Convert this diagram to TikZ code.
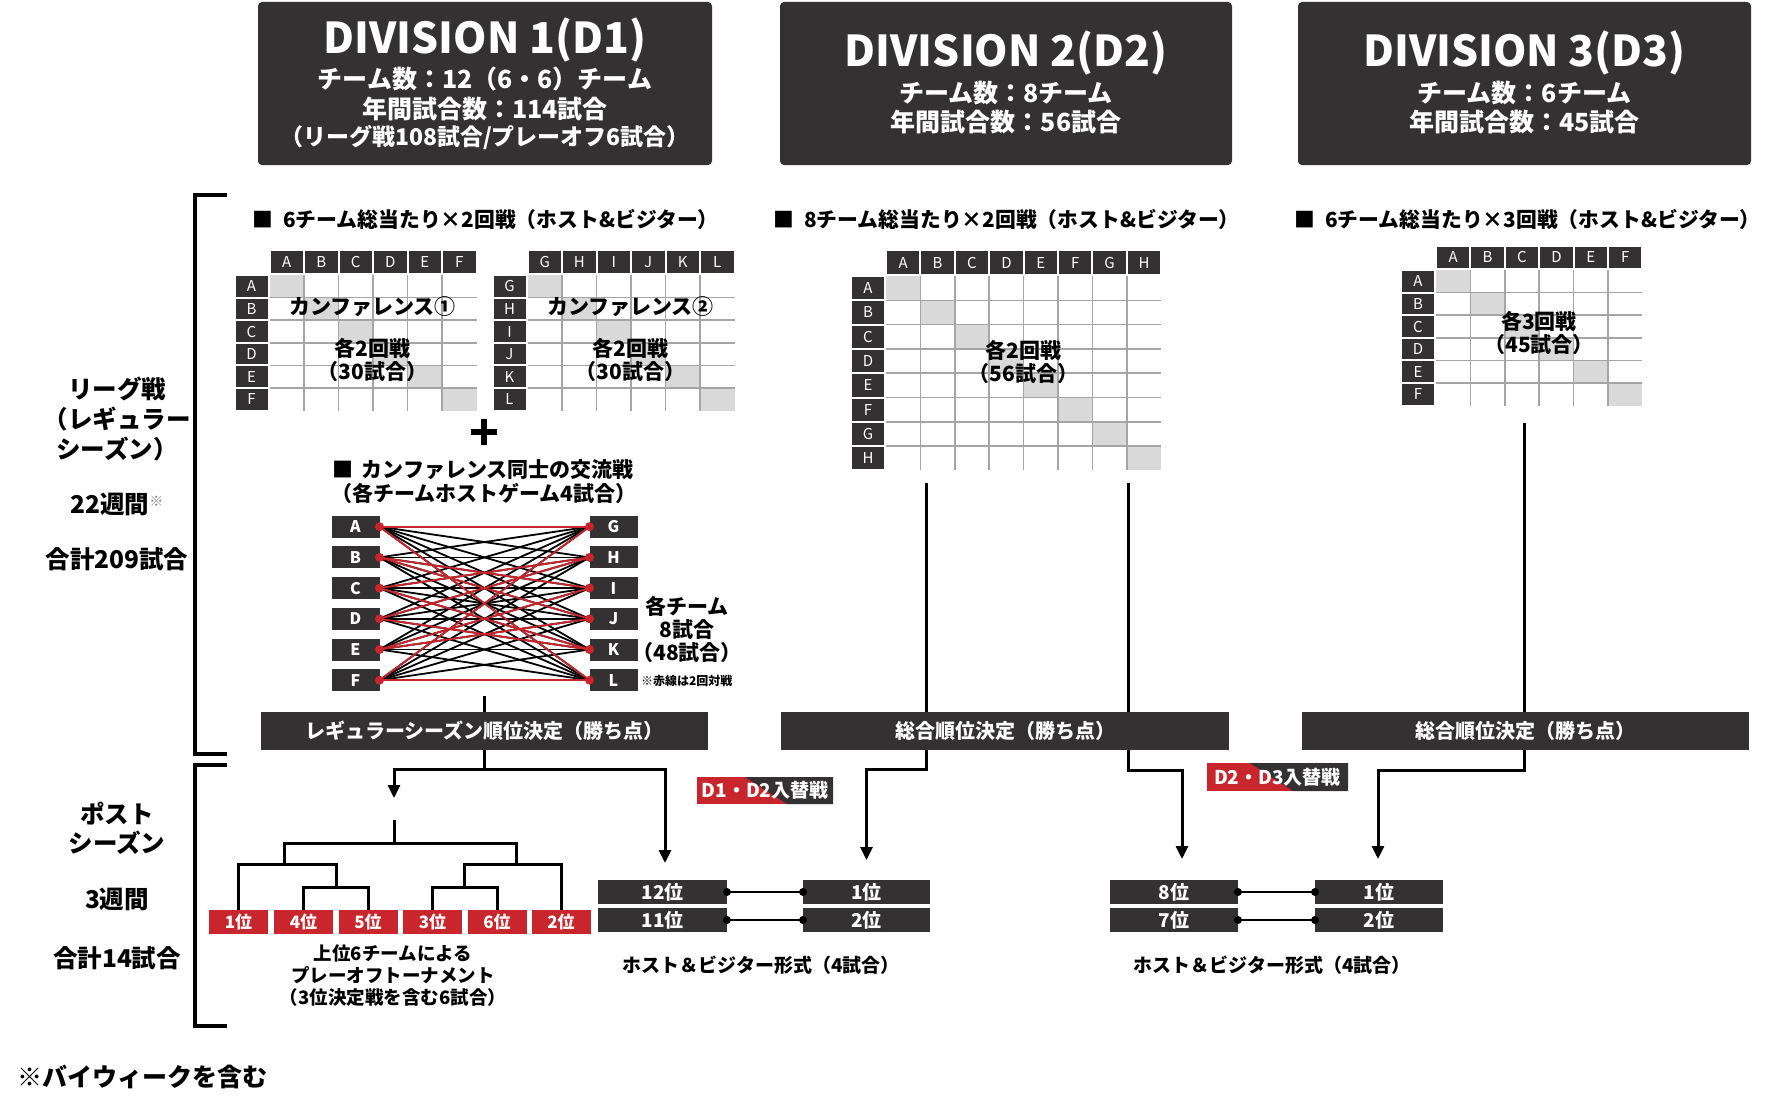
\documentclass[tikz,border=0pt]{standalone}
\usepackage{fontspec}
\setmainfont{Noto Sans CJK JP}
\usetikzlibrary{arrows.meta}
\definecolor{dk}{RGB}{51,49,50}
\definecolor{rd}{RGB}{200,38,44}
\definecolor{lg}{RGB}{217,217,217}
\definecolor{gl}{RGB}{165,165,165}
\newcommand{\fsz}[1]{\fontsize{#1}{#1}\selectfont}
\tikzset{
  base/.style={inner sep=0pt, outer sep=0pt},
  lab/.style={base, font={\bfseries\fsz{20}}},
  wlab/.style={lab, text=white},
  hdrbox/.style={base, fill=dk, rounded corners=4pt},
  barbox/.style={base, fill=dk, minimum width=447, minimum height=38, text=white, font={\bfseries\fsz{20}}},
  rkbox/.style={base, fill=dk, minimum width=129, minimum height=24, text=white, font={\bfseries\fsz{19}}},
  redbox/.style={base, fill=rd, minimum width=59, minimum height=24, text=white, font={\bfseries\fsz{17}}},
  xbox/.style={base, fill=dk, minimum width=48, minimum height=22, text=white, font={\bfseries\fsz{16}}},
  tcell/.style={base, fill=dk, text=white, font={\fsz{15}}},
  gridl/.style={draw=gl, line width=1.5pt},
  conn/.style={draw=black, line width=3pt},
  arr/.style={conn, -{Triangle[length=13pt,width=12pt]}},
  xline/.style={draw=black, line width=1.8pt},
  xred/.style={draw=rd, line width=1.8pt},
  hv/.style={draw=black, line width=2pt},
  sidelab/.style={base, font={\bfseries\fsz{24.5}}},
  brk/.style={draw=black, line width=4pt},
}
% #1 x0, #2 header top, #3 grid top, #4 cw, #5 rh, #6 letters, #7 n, #8 prefix
\newcommand{\rrtab}[8]{%
  \pgfmathtruncatemacro\nm{#7-1}%
  \foreach \l [count=\i from 0] in {#6} {
    \fill[lg] ({#1+\i*#4},{#3+\i*#5}) rectangle ++(#4,#5);
    \node[tcell, minimum width=#4pt-2pt, minimum height=#3pt-#2pt-2pt] (#8h\i) at ({#1+(\i+0.5)*#4},{(#2+#3)/2-1}) {\l};
    \node[tcell, minimum width=32pt, minimum height=#5pt-2pt] (#8r\i) at ({#1-18},{#3+(\i+0.5)*#5}) {\l};
  }
  \foreach \i in {1,...,\nm} {
    \draw[gridl] ({#1+\i*#4},#3) -- ({#1+\i*#4},{#3+#7*#5});
    \draw[gridl] (#1,{#3+\i*#5}) -- ({#1+#7*#4},{#3+\i*#5});
  }
}
\begin{document}
\begin{tikzpicture}[x=1pt,y=-1pt]
\useasboundingbox[fill=white] (0,0) rectangle (1777,1108);

% ---------- headers ----------
\node[hdrbox, minimum width=454, minimum height=163] (h1) at (485,83.5) {};
\node[hdrbox, minimum width=452, minimum height=163] (h2) at (1006,83.5) {};
\node[hdrbox, minimum width=453, minimum height=163] (h3) at (1524.5,83.5) {};
\node[base, text=white, font={\bfseries\fsz{42.5}}] (h1t) at (485,40) {DIVISION 1(D1)};
\node[wlab, font={\bfseries\fsz{25}}] (h1a) at (485,79) {チーム数：12（6・6）チーム};
\node[wlab, font={\bfseries\fsz{25}}] (h1b) at (485,109) {年間試合数：114試合};
\node[wlab, font={\bfseries\fsz{23}}] (h1c) at (485,138) {（リーグ戦108試合/プレーオフ6試合）};
\node[base, text=white, font={\bfseries\fsz{42.5}}] (h2t) at (1006,53) {DIVISION 2(D2)};
\node[wlab, font={\bfseries\fsz{25}}] (h2a) at (1006,93) {チーム数：8チーム};
\node[wlab, font={\bfseries\fsz{25}}] (h2b) at (1006,122) {年間試合数：56試合};
\node[base, text=white, font={\bfseries\fsz{42.5}}] (h3t) at (1524.5,53) {DIVISION 3(D3)};
\node[wlab, font={\bfseries\fsz{25}}] (h3a) at (1524.5,93) {チーム数：6チーム};
\node[wlab, font={\bfseries\fsz{25}}] (h3b) at (1524.5,122) {年間試合数：45試合};

% ---------- brackets and side labels ----------
\draw[brk] (227,195) -- (195,195) -- (195,754) -- (227,754);
\draw[brk] (227,765) -- (195,765) -- (195,1026) -- (227,1026);
\node[sidelab] (s1) at (117,389) {リーグ戦};
\node[sidelab] (s2) at (117,419) {（レギュラー};
\node[sidelab] (s3) at (117,449) {シーズン）};
\node[sidelab] (s4) at (117,504) {22週間\raisebox{7pt}{\textcolor{gray}{\fsz{14}※}}};
\node[sidelab] (s5) at (117,559) {合計209試合};
\node[sidelab] (s6) at (117,814) {ポスト};
\node[sidelab] (s7) at (117,843) {シーズン};
\node[sidelab] (s8) at (117,899) {3週間};
\node[sidelab] (s9) at (117,958) {合計14試合};
\node[sidelab, anchor=west, font={\bfseries\fsz{25}}] (foot) at (17,1077) {※バイウィークを含む};

% ---------- section headings ----------
\node[lab, anchor=west, font={\bfseries\fsz{20.8}}] (sec1) at (252,219) {■\hspace{0.5em}6チーム総当たり×2回戦（ホスト\&ビジター）};
\node[lab, anchor=west, font={\bfseries\fsz{20.8}}] (sec2) at (773,219) {■\hspace{0.5em}8チーム総当たり×2回戦（ホスト\&ビジター）};
\node[lab, anchor=west, font={\bfseries\fsz{20.8}}] (sec3) at (1294,219) {■\hspace{0.5em}6チーム総当たり×3回戦（ホスト\&ビジター）};

% ---------- tables ----------
\rrtab{269.5}{251}{275}{34.5}{22.6}{A,B,C,D,E,F}{6}{ta}
\rrtab{527.5}{251}{275}{34.5}{22.6}{G,H,I,J,K,L}{6}{tb}
\rrtab{886}{251}{276}{34.4}{24.3}{A,B,C,D,E,F,G,H}{8}{tc}
\rrtab{1436}{246.5}{270}{34.4}{22.6}{A,B,C,D,E,F}{6}{td}

\node[lab, font={\bfseries\fsz{21}}] (ca1) at (372.5,307) {カンファレンス①};
\node[lab, font={\bfseries\fsz{21}}] (ca2) at (372.5,348) {各2回戦};
\node[lab, font={\bfseries\fsz{21}}] (ca3) at (372.5,372) {（30試合）};
\node[lab, font={\bfseries\fsz{21}}] (cb1) at (630.5,307) {カンファレンス②};
\node[lab, font={\bfseries\fsz{21}}] (cb2) at (630.5,348) {各2回戦};
\node[lab, font={\bfseries\fsz{21}}] (cb3) at (630.5,372) {（30試合）};
\node[lab, font={\bfseries\fsz{21}}] (cc1) at (1023.5,350) {各2回戦};
\node[lab, font={\bfseries\fsz{21}}] (cc2) at (1023.5,374) {（56試合）};
\node[lab, font={\bfseries\fsz{21}}] (cd1) at (1539,321) {各3回戦};
\node[lab, font={\bfseries\fsz{21}}] (cd2) at (1539,345) {（45試合）};

% plus sign
\fill[black] (471,429) rectangle (497,435);
\fill[black] (481,419) rectangle (487,445);

% ---------- cross diagram ----------
\node[lab, font={\bfseries\fsz{21}}] (xh1) at (483,470) {■\hspace{0.4em}カンファレンス同士の交流戦};
\node[lab, font={\bfseries\fsz{21}}] (xh2) at (484,493) {（各チームホストゲーム4試合）};
\foreach \l [count=\i] in {A,...,F} {
  \node[xbox] (cl\i) at (355.5,{526.7+(\i-1)*30.7}) {\l};
}
\foreach \l [count=\i] in {G,...,L} {
  \node[xbox] (cr\i) at (613.5,{526.7+(\i-1)*30.7}) {\l};
}
\foreach \i in {1,...,6} { \foreach \j in {1,...,6} { \draw[xline] (cl\i.east) -- (cr\j.west); } }
\foreach \i/\j in {1/1,1/6,6/1,6/6,2/3,2/4,3/2,3/5,4/2,4/5,5/3,5/4} { \draw[xred] (cl\i.east) -- (cr\j.west); }
\foreach \i in {1,...,6} { \fill[rd] (cl\i.east) circle (4.5); \fill[rd] (cr\i.west) circle (4.5); }
\node[lab, font={\bfseries\fsz{21}}] (xn1) at (687,606) {各チーム};
\node[lab, font={\bfseries\fsz{21}}] (xn2) at (687,630) {8試合};
\node[lab, font={\bfseries\fsz{21}}] (xn3) at (687,653) {（48試合）};
\node[base, anchor=west, font={\bfseries\fsz{12}}] (xn4) at (641,681) {※赤線は2回対戦};
\coordinate (xc) at (484.5,696);

% ---------- ranking bars ----------
\node[barbox] (b1) at (484.5,731) {レギュラーシーズン順位決定（勝ち点）};
\node[barbox, minimum width=448] (b2) at (1005,731) {総合順位決定（勝ち点）};
\node[barbox] (b3) at (1525.5,731) {総合順位決定（勝ち点）};

\draw[conn] (xc) -- (b1.north);
\coordinate (d2a) at (926,483);
\coordinate (d2b) at (1128,483);
\coordinate (d3a) at (1524.5,423);
\draw[conn] (d2a) -- (d2a |- b2.north);
\draw[conn] (d2b) -- (d2b |- b2.north);
\draw[conn] (d3a) -- (d3a |- b3.north);

% ---------- post season ----------
\coordinate (po) at (394,798);
\node[rkbox] (r12) at (662.5,892) {12位};
\node[rkbox] (r11) at (662.5,920) {11位};
\node[rkbox, minimum width=127] (q1) at (866.5,892) {1位};
\node[rkbox, minimum width=127] (q2) at (866.5,920) {2位};
\node[rkbox, minimum width=128] (r8) at (1174,892) {8位};
\node[rkbox, minimum width=128] (r7) at (1174,920) {7位};
\node[rkbox, minimum width=128] (p1) at (1379,892) {1位};
\node[rkbox, minimum width=128] (p2) at (1379,920) {2位};

\draw[conn] (b1.south) -- (484.5,769) -- (394,769);
\draw[arr] (394,767.5) -- (po);
\draw[arr] (484.5,769) -- (665,769) -- (665,863);
\draw[arr] (926,750) -- (926,769) -- (866.5,769) -- (866.5,860);
\draw[arr] (1128,750) -- (1128,770) -- (1182,770) -- (1182,859);
\draw[arr] (1524.5,750) -- (1524.5,770) -- (1378,770) -- (1378,859);

% H&V connectors
\foreach \a/\b in {r12/q1,r11/q2,r8/p1,r7/p2} {
  \draw[hv] (\a.east) -- (\b.west);
  \fill (\a.east) circle (4); \fill (\b.west) circle (4);
}
\node[lab, font={\bfseries\fsz{19}}] (hv1) at (761,965) {ホスト＆ビジター形式（4試合）};
\node[lab, font={\bfseries\fsz{19}}] (hv2) at (1272,965) {ホスト＆ビジター形式（4試合）};

% swap labels
\fill[rd] (697,777) rectangle (833,804);
\fill[dk] (745,777) -- (833,777) -- (833,804) -- (787,804) -- cycle;
\node[wlab, font={\bfseries\fsz{19}}] (sw1) at (765,790.5) {D1・D2入替戦};
\fill[rd] (1207,763) rectangle (1348,791);
\fill[dk] (1250,763) -- (1348,763) -- (1348,791) -- (1293,791) -- cycle;
\node[wlab, font={\bfseries\fsz{19}}] (sw2) at (1277.5,777) {D2・D3入替戦};

% tournament
\node[redbox] (t1) at (238.5,922) {1位};
\node[redbox] (t4) at (303.5,922) {4位};
\node[redbox] (t5) at (368,922) {5位};
\node[redbox] (t3) at (432.5,922) {3位};
\node[redbox] (t6) at (497,922) {6位};
\node[redbox] (t2) at (561,922) {2位};
\draw[conn] (394,820) -- (394,843);
\draw[conn] (284,864) -- (284,843) -- (516,843) -- (516,864);
\draw[conn] (t1.north) -- (238.5,864) -- (336,864) -- (336,887);
\draw[conn] (t4.north) -- (303.5,887) -- (368,887) -- (t5.north);
\draw[conn] (t2.north) -- (561,864) -- (464,864) -- (464,887);
\draw[conn] (t3.north) -- (432.5,887) -- (497,887) -- (t6.north);
\node[lab, font={\bfseries\fsz{18.5}}] (tt1) at (393,953) {上位6チームによる};
\node[lab, font={\bfseries\fsz{18.5}}] (tt2) at (393,975) {プレーオフトーナメント};
\node[lab, font={\bfseries\fsz{18.5}}] (tt3) at (393,997) {（3位決定戦を含む6試合）};
\end{tikzpicture}
\end{document}
